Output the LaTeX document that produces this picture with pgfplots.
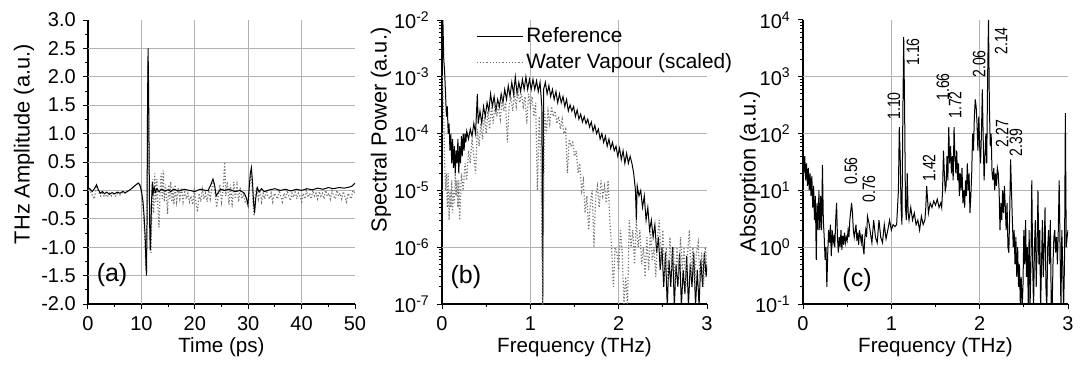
\documentclass[border=0pt]{standalone}
\usepackage{fontspec}
\setmainfont{Liberation Sans}
\usepackage{graphicx}
\usepackage{pgfplots}
\pgfplotsset{compat=1.18}
\newcommand{\ann}[1]{\fontsize{9}{10}\selectfont\scalebox{0.78}[1]{#1}}
\tikzset{gridl/.style={solid, black!30, line width=0.5pt}}
\pgfplotsset{
 myax/.style={scale only axis, height=142pt,
  axis x line*=bottom, axis y line*=left,
  axis line style={-, line width=0.6pt},
  tick align=outside, major tick length=2.6pt, minor tick length=1.5pt,
  tick style={black, line width=0.5pt},
  /pgf/number format/assume math mode=true,
  tick label style={font=\fontsize{10}{12}\selectfont},
  xlabel style={font=\fontsize{10.3}{12}\selectfont, at={(axis description cs:0.5,-0.151)}, anchor=center},
  ylabel style={font=\fontsize{10.9}{12}\selectfont, anchor=center},
  grid style={gridl},
  major grid style={gridl},
  extra x tick style={xmajorgrids=true, major tick length=0pt},
  clip=true,
 },
 refl/.style={black, line width=0.5pt, mark=none},
 wvl/.style={black!55, densely dotted, line width=0.6pt, mark=none},
}
\begin{document}
\begin{tikzpicture}
\path[use as bounding box] (0,0) rectangle (540.5pt,185pt);
% ---------------- (a)
\begin{axis}[myax, at={(44pt,33pt)}, anchor=south west, width=133.5pt,
  xmin=0, xmax=50, ymin=-2, ymax=3,
  xtick={0,10,20,30,40,50}, minor x tick num=1,
  ytick={-2,-1.5,-1,-0.5,0,0.5,1,1.5,2,2.5,3}, minor y tick num=1,
  yticklabels={-2.0,-1.5,-1.0,-0.5,0.0,0.5,1.0,1.5,2.0,2.5,3.0},
  extra x ticks={10,20,30,40}, extra x tick labels={},
  xlabel={Time (ps)}, ylabel={THz Amplitude (a.u.)},
  ylabel style={at={(axis description cs:-0.24,0.563)}}]
\pgfplotsinvokeforeach{-1.5,-1,-0.5,0,0.5,1,1.5,2,2.5}{\draw[gridl] (axis cs:0,#1) -- (axis cs:50,#1);}
\addplot[wvl] coordinates {(0,0.02)(0.3,0.05)(0.6,-0.05)(0.9,-0.1)(1.2,-0.15)(1.5,0.05)(1.8,0.0)(2.1,-0.05)(2.4,-0.1)(2.7,-0.05)(3,-0.1)(3.3,-0.08)(3.6,-0.12)(4,-0.05)(4.4,-0.1)(4.8,-0.06)(5.2,-0.1)(5.6,-0.05)(6,-0.08)(6.4,-0.04)(6.8,-0.06)(7.2,-0.03)(7.6,-0.01)(8,0.02)(8.5,0.06)(9,0.1)(9.4,0.12)(9.7,0.08)(10,-0.05)(10.3,-0.3)(10.5,-0.6)(10.7,-1.0)(10.9,-1.4)(11.05,-0.5)(11.2,2.2)(11.35,1.2)(11.5,-0.3)(11.65,-0.9)(11.8,-1.1)(11.95,-0.4)(12.1,0.2)(12.3,-0.4)(12.5,0.3)(12.7,-0.2)(12.9,0.2)(13.1,-0.3)(13.3,-0.65)(13.5,0.0)(13.7,0.3)(13.9,-0.15)(14.1,0.35)(14.3,-0.2)(14.5,0.1)(14.7,-0.1)(14.9,-0.42)(15.1,0.1)(15.3,-0.15)(15.5,0.15)(15.7,-0.2)(15.9,0.05)(16.1,-0.25)(16.3,0.1)(16.6,-0.2)(16.9,0.05)(17.2,-0.15)(17.5,0.05)(17.8,-0.2)(18.1,0.0)(18.4,-0.15)(18.7,-0.05)(19,-0.2)(19.3,-0.1)(19.6,-0.25)(19.9,0.0)(20.2,-0.2)(20.5,-0.38)(20.8,-0.05)(21.1,-0.2)(21.4,0.02)(21.7,-0.15)(22,-0.05)(22.3,-0.2)(22.6,0.0)(22.9,-0.15)(23.2,0.05)(23.5,0.15)(23.8,-0.05)(24.1,-0.3)(24.4,-0.1)(24.7,0.1)(25,-0.2)(25.3,0.0)(25.6,0.5)(25.8,-0.1)(26.1,0.15)(26.4,-0.25)(26.7,0.1)(27,-0.3)(27.3,0.15)(27.6,-0.15)(27.9,0.1)(28.2,-0.2)(28.5,0.05)(28.8,-0.15)(29.1,-0.05)(29.4,-0.2)(29.7,-0.2)(30,-0.28)(30.2,0.0)(30.5,0.35)(30.7,0.1)(30.9,-0.2)(31.1,-0.45)(31.3,-0.1)(31.6,0.05)(31.9,-0.15)(32.2,0.0)(32.5,-0.2)(32.8,-0.05)(33.1,-0.15)(33.4,0.0)(33.7,-0.1)(34,-0.15)(34.3,-0.05)(34.6,-0.2)(34.9,-0.05)(35.2,-0.1)(35.5,-0.15)(35.8,0.0)(36.1,-0.1)(36.4,-0.2)(36.7,-0.05)(37,-0.15)(37.3,0.0)(37.6,-0.1)(37.9,-0.18)(38.2,-0.05)(38.5,-0.12)(38.8,0.0)(39.1,-0.15)(39.4,-0.05)(39.7,-0.1)(40,-0.2)(40.3,-0.05)(40.6,-0.15)(40.9,0.0)(41.2,-0.12)(41.5,-0.05)(41.8,-0.15)(42.1,0.0)(42.4,-0.1)(42.7,-0.05)(43,-0.15)(43.3,-0.02)(43.6,-0.1)(43.9,-0.05)(44.2,-0.15)(44.5,0.0)(44.8,-0.1)(45.1,-0.05)(45.4,-0.15)(45.7,0.0)(46,-0.1)(46.3,-0.15)(46.6,0.0)(46.9,-0.1)(47.2,-0.05)(47.5,-0.15)(47.8,-0.02)(48.1,-0.1)(48.4,-0.2)(48.7,-0.05)(49,-0.1)(49.3,-0.15)(49.6,0.0)(50,-0.05)};
\addplot[refl] coordinates {(0,0.05)(0.4,0.02)(0.8,-0.02)(1.2,0.03)(1.6,0.1)(1.9,0.02)(2.3,-0.05)(2.7,-0.02)(3.1,-0.06)(3.5,-0.03)(4,-0.07)(4.5,-0.04)(5,-0.06)(5.5,-0.03)(6,-0.05)(6.5,-0.02)(7,-0.04)(7.5,-0.01)(8,0.02)(8.5,0.06)(9,0.1)(9.4,0.13)(9.7,0.1)(10,0.0)(10.3,-0.2)(10.5,-0.45)(10.7,-0.8)(10.85,-1.3)(10.95,-1.5)(11.05,-0.6)(11.15,1.5)(11.25,2.5)(11.35,1.8)(11.45,0.5)(11.55,-0.6)(11.65,-1.05)(11.75,-0.8)(11.9,-0.2)(12.05,0.15)(12.2,-0.05)(12.4,0.05)(12.6,-0.03)(12.9,0.03)(13.3,-0.02)(13.8,0.02)(14.3,-0.01)(15,0.01)(15.5,-0.02)(16,0.02)(17,-0.01)(18,0.02)(19,0.0)(20,-0.02)(21,0.02)(22,0.0)(22.5,0.0)(23,0.1)(23.4,0.2)(23.7,0.1)(24,-0.1)(24.3,-0.05)(24.8,0.02)(25.5,0.0)(26.5,0.02)(27.5,-0.02)(28.5,0.0)(29.3,-0.05)(29.7,-0.15)(29.95,-0.25)(30.15,0.0)(30.4,0.3)(30.6,0.4)(30.8,0.15)(31.0,-0.2)(31.2,-0.4)(31.4,-0.15)(31.7,0.05)(32,-0.02)(32.5,0.03)(33,-0.02)(34,0.01)(35,0.03)(36,0.0)(37,0.02)(38,-0.01)(39,0.02)(40,0.0)(41,0.03)(42,0.01)(43,0.04)(44,0.02)(45,0.05)(46,0.03)(47,0.05)(48,0.04)(49,0.06)(49.5,0.08)(50,0.13)};
\node[font=\fontsize{12.5}{14}\selectfont] at (axis description cs:0.09,0.102) {(a)};
\end{axis}
% ---------------- (b)
\begin{axis}[myax, at={(221pt,33pt)}, anchor=south west, width=132.5pt,
  ymode=log, xmin=0, xmax=3, ymin=1e-7, ymax=1e-2,
  xtick={0,1,2,3}, minor x tick num=1,
  ytick={1e-7,1e-6,1e-5,1e-4,1e-3,1e-2},
  yticklabels={10\textsuperscript{-7},10\textsuperscript{-6},10\textsuperscript{-5},10\textsuperscript{-4},10\textsuperscript{-3},10\textsuperscript{-2}},
  extra x ticks={1,2}, extra x tick labels={},
  xlabel={Frequency (THz)}, ylabel={Spectral Power (a.u.)},
  ylabel style={at={(axis description cs:-0.23,0.613)}},
  legend style={at={(axis description cs:0.105,1.0)}, anchor=north west, draw=none, fill=none,
    font=\fontsize{10.4}{12}\selectfont, nodes={inner sep=1.5pt}, row sep=1.2pt},
  legend cell align=left,
  legend image code/.code={\draw[#1] (0pt,0pt) -- (23pt,0pt);}]
\pgfplotsinvokeforeach{1e-6,1e-5,1e-4,1e-3}{\draw[gridl] (axis cs:0,#1) -- (axis cs:3,#1);}
\addplot[refl] coordinates {(0.005,8e-3)(0.01,1e-2)(0.02,2e-3)(0.03,1.2e-3)(0.04,5e-4)(0.05,2e-4)(0.06,3e-4)(0.07,1e-4)(0.08,1.5e-4)(0.09,5e-5)(0.10,1e-4)(0.11,3e-5)(0.12,8e-5)(0.13,2.5e-5)(0.14,6e-5)(0.15,2e-5)(0.16,5e-5)(0.17,3e-5)(0.18,8e-5)(0.19,2e-5)(0.2,6e-5)(0.21,3e-5)(0.22,9e-5)(0.23,4e-5)(0.24,1e-4)(0.25,5e-5)(0.26,1e-4)(0.27,7e-5)(0.28,1.1e-4)(0.3,8e-5)(0.32,1.2e-4)(0.34,9e-5)(0.36,1.5e-4)(0.38,1e-4)(0.40,5e-4)(0.41,1.5e-4)(0.43,2.5e-4)(0.45,1.5e-4)(0.47,3e-4)(0.49,2e-4)(0.51,3.5e-4)(0.53,2.5e-4)(0.55,5e-4)(0.57,3e-4)(0.59,4.5e-4)(0.61,2.5e-4)(0.63,4e-4)(0.65,3e-4)(0.67,5e-4)(0.69,3.5e-4)(0.71,6e-4)(0.73,4e-4)(0.75,7e-4)(0.77,4.5e-4)(0.79,8e-4)(0.81,5e-4)(0.83,1e-3)(0.85,5e-4)(0.87,8e-4)(0.89,5.5e-4)(0.91,9e-4)(0.93,6e-4)(0.95,1e-3)(0.97,6e-4)(0.99,9e-4)(1.01,6e-4)(1.03,9e-4)(1.05,6e-4)(1.07,8.5e-4)(1.09,5.5e-4)(1.11,8e-4)(1.13,3e-4)(1.14,9e-8)(1.15,6e-4)(1.17,8e-4)(1.19,5e-4)(1.21,7e-4)(1.23,4.5e-4)(1.25,6e-4)(1.27,4e-4)(1.29,5.5e-4)(1.31,3.5e-4)(1.33,5e-4)(1.35,3.5e-4)(1.37,4.5e-4)(1.39,3e-4)(1.41,4e-4)(1.43,2.5e-4)(1.45,3.2e-4)(1.47,2.5e-4)(1.49,3e-4)(1.51,2e-4)(1.53,2.6e-4)(1.55,1.8e-4)(1.57,2.2e-4)(1.59,1.6e-4)(1.61,2e-4)(1.63,1.5e-4)(1.65,1.8e-4)(1.67,1.3e-4)(1.69,1.6e-4)(1.71,1.1e-4)(1.73,1.4e-4)(1.75,1e-4)(1.77,1.2e-4)(1.79,8e-5)(1.81,1e-4)(1.83,7e-5)(1.85,9e-5)(1.87,6e-5)(1.89,8e-5)(1.91,5.5e-5)(1.93,7e-5)(1.95,5e-5)(1.97,6e-5)(1.99,4e-5)(2.01,5.5e-5)(2.03,3.5e-5)(2.05,5e-5)(2.07,3e-5)(2.09,4.5e-5)(2.11,3e-5)(2.13,4e-5)(2.15,3e-5)(2.17,2e-5)(2.19,1e-5)(2.2,3e-6)(2.21,1.2e-5)(2.23,8e-6)(2.25,1e-5)(2.27,5e-6)(2.29,8e-6)(2.31,3e-6)(2.33,5e-6)(2.35,2e-6)(2.37,3e-6)(2.39,1.5e-6)(2.41,2.5e-6)(2.43,8e-7)(2.45,1.5e-6)(2.47,4e-7)(2.49,1e-6)(2.51,2e-7)(2.53,8e-7)(2.55,9e-8)(2.57,6e-7)(2.59,2e-7)(2.61,1e-6)(2.63,9e-8)(2.65,5e-7)(2.67,2e-7)(2.69,8e-7)(2.71,9e-8)(2.73,4e-7)(2.75,1.5e-7)(2.77,7e-7)(2.79,9e-8)(2.81,5e-7)(2.83,2e-7)(2.85,8e-7)(2.87,9e-8)(2.89,4e-7)(2.91,9e-8)(2.93,6e-7)(2.95,2e-7)(2.97,8e-7)(2.99,3e-7)(3.0,5e-7)};
\addlegendentry{Reference}
\addplot[wvl] coordinates {(0.005,1e-3)(0.01,5e-4)(0.02,2e-4)(0.03,3e-5)(0.04,1e-5)(0.05,2e-5)(0.06,5e-6)(0.07,2e-5)(0.08,3e-6)(0.09,1e-5)(0.1,5e-6)(0.11,1.5e-5)(0.12,4e-6)(0.13,1e-5)(0.14,6e-6)(0.15,2e-5)(0.16,8e-6)(0.17,1.5e-5)(0.18,5e-6)(0.19,1.5e-5)(0.20,3e-6)(0.22,2e-5)(0.24,1e-5)(0.26,3e-5)(0.28,1.5e-5)(0.30,5e-5)(0.32,3e-5)(0.34,8e-5)(0.36,4e-5)(0.38,2e-5)(0.40,1.2e-4)(0.42,6e-5)(0.44,1.5e-4)(0.46,8e-5)(0.48,2e-4)(0.50,1e-4)(0.52,2.5e-4)(0.54,1.2e-4)(0.56,3e-4)(0.58,1.5e-4)(0.60,3.5e-4)(0.62,2e-4)(0.64,3e-4)(0.66,1.8e-4)(0.68,4e-4)(0.70,2.5e-4)(0.72,3.5e-4)(0.74,7e-5)(0.76,3e-4)(0.78,4.5e-4)(0.80,2.5e-4)(0.82,5e-4)(0.84,3e-4)(0.86,5.5e-4)(0.88,3.5e-4)(0.90,5e-4)(0.92,3e-4)(0.94,4.5e-4)(0.96,1.5e-4)(0.98,5e-4)(1.00,3e-4)(1.02,4.5e-4)(1.04,2e-4)(1.06,3.5e-4)(1.08,1e-5)(1.10,2e-4)(1.12,3e-5)(1.14,9e-8)(1.16,2.5e-4)(1.18,1e-4)(1.20,2.5e-4)(1.22,1.5e-4)(1.24,3e-4)(1.26,2e-4)(1.28,2.5e-4)(1.30,1.5e-4)(1.32,2e-4)(1.34,1.2e-4)(1.36,1.8e-4)(1.38,1e-4)(1.40,1.2e-4)(1.42,2e-5)(1.44,8e-5)(1.46,6e-5)(1.48,7e-5)(1.50,4e-5)(1.52,5e-5)(1.54,2e-5)(1.56,3e-5)(1.58,1e-5)(1.60,1.5e-5)(1.62,4e-6)(1.64,8e-6)(1.66,2e-6)(1.68,6e-6)(1.70,1e-5)(1.72,1e-6)(1.74,8e-6)(1.76,1.2e-5)(1.78,5e-6)(1.80,1.5e-5)(1.82,8e-6)(1.84,1.2e-5)(1.86,6e-6)(1.88,1.5e-5)(1.90,3e-6)(1.92,1e-6)(1.94,2e-7)(1.96,1e-6)(1.98,8e-7)(2.00,4e-7)(2.02,2e-6)(2.04,8e-7)(2.06,1e-7)(2.08,3e-7)(2.10,9e-8)(2.12,3e-6)(2.14,1e-6)(2.16,2e-6)(2.18,5e-7)(2.20,3e-6)(2.22,1e-6)(2.24,2e-6)(2.26,5e-7)(2.28,1e-6)(2.30,3e-7)(2.32,1.5e-6)(2.34,4e-7)(2.36,2e-6)(2.38,6e-7)(2.40,1e-6)(2.42,3e-7)(2.44,1.5e-6)(2.46,3e-6)(2.48,5e-7)(2.50,2e-6)(2.52,3e-7)(2.54,1e-6)(2.56,2e-7)(2.58,1.5e-6)(2.60,4e-7)(2.62,1e-6)(2.64,2e-7)(2.66,1e-6)(2.68,3e-7)(2.70,1.5e-6)(2.72,4e-7)(2.74,1e-6)(2.76,2e-7)(2.78,8e-7)(2.80,2e-6)(2.82,3e-7)(2.84,1e-6)(2.86,2e-7)(2.88,8e-7)(2.90,1.2e-6)(2.92,3e-7)(2.94,8e-7)(2.96,2e-7)(2.98,1e-6)(3.0,5e-7)};
\addlegendentry{Water Vapour (scaled)}
\node[font=\fontsize{12.5}{14}\selectfont] at (axis description cs:0.09,0.095) {(b)};
\end{axis}
% ---------------- (c)
\begin{axis}[myax, at={(401.5pt,33pt)}, anchor=south west, width=132.5pt,
  ymode=log, xmin=0, xmax=3, ymin=1e-1, ymax=1e4,
  xtick={0,1,2,3}, minor x tick num=1,
  ytick={1e-1,1,1e1,1e2,1e3,1e4},
  yticklabels={10\textsuperscript{-1},10\textsuperscript{0},10\textsuperscript{1},10\textsuperscript{2},10\textsuperscript{3},10\textsuperscript{4}},
  extra x ticks={1,2}, extra x tick labels={},
  xlabel={Frequency (THz)}, ylabel={Absorption (a.u.)},
  ylabel style={at={(axis description cs:-0.2,0.465)}}]
\pgfplotsinvokeforeach{1,1e1,1e2,1e3}{\draw[gridl] (axis cs:0,#1) -- (axis cs:3,#1);}
\addplot[refl] coordinates {(0.0,60)(0.01,20)(0.02,40)(0.03,15)(0.04,30)(0.05,12)(0.06,25)(0.07,10)(0.08,20)(0.09,8)(0.10,18)(0.11,5)(0.12,12)(0.13,3)(0.14,8)(0.15,0.6)(0.16,6)(0.17,2)(0.18,10)(0.19,2)(0.20,8)(0.21,2)(0.22,28)(0.23,3)(0.24,1.5)(0.25,0.6)(0.26,1)(0.27,0.2)(0.28,0.8)(0.29,2)(0.30,1.2)(0.31,2.5)(0.32,0.7)(0.33,2)(0.34,1.2)(0.35,1.5)(0.36,1)(0.37,3)(0.38,6)(0.39,1.5)(0.40,0.8)(0.41,1.5)(0.42,1)(0.43,2)(0.44,0.9)(0.45,1.6)(0.46,1.1)(0.47,1.8)(0.48,1.2)(0.49,1.5)(0.50,1.3)(0.51,2)(0.52,1.5)(0.53,3)(0.55,6)(0.56,4)(0.57,2)(0.58,1.5)(0.60,2.5)(0.61,1.3)(0.62,1.8)(0.63,1.1)(0.64,2)(0.66,1.2)(0.67,1.7)(0.68,1)(0.69,0.75)(0.70,1.5)(0.71,2)(0.72,1.5)(0.73,3.5)(0.75,2.5)(0.77,1.5)(0.78,1.2)(0.80,3)(0.82,1.5)(0.84,1.2)(0.86,3)(0.88,1.5)(0.90,1.2)(0.92,2.5)(0.94,1.4)(0.96,2)(0.98,3)(1.00,2)(1.02,2.5)(1.04,2.3)(1.06,2.5)(1.08,10)(1.09,130)(1.10,40)(1.11,5)(1.12,2.5)(1.13,200)(1.14,5000)(1.15,300)(1.16,5)(1.17,3)(1.18,20)(1.19,4)(1.20,3)(1.22,5)(1.24,3)(1.26,4)(1.28,2.5)(1.30,3)(1.32,2)(1.34,3.5)(1.36,2.5)(1.38,3)(1.39,5)(1.40,12)(1.41,7)(1.42,4)(1.44,6)(1.46,5)(1.48,6.5)(1.50,5.5)(1.52,7)(1.54,5)(1.56,6)(1.57,5)(1.58,10)(1.59,50)(1.60,20)(1.61,10)(1.62,12)(1.63,40)(1.64,15)(1.65,130)(1.66,30)(1.67,60)(1.68,20)(1.69,40)(1.70,15)(1.71,130)(1.72,40)(1.73,20)(1.74,50)(1.75,15)(1.76,30)(1.77,8)(1.78,20)(1.79,10)(1.80,25)(1.81,6)(1.82,10)(1.83,5)(1.84,15)(1.85,8)(1.86,30)(1.87,10)(1.88,20)(1.89,4)(1.90,8)(1.91,20)(1.92,100)(1.93,50)(1.94,200)(1.95,400)(1.96,300)(1.97,150)(1.98,50)(1.99,200)(2.00,60)(2.01,30)(2.02,100)(2.03,600)(2.04,80)(2.05,15)(2.06,40)(2.07,100)(2.08,30)(2.09,1000)(2.10,10000)(2.11,300)(2.12,60)(2.13,100)(2.14,20)(2.15,15)(2.16,25)(2.17,10)(2.18,20)(2.19,12)(2.20,25)(2.21,20)(2.22,10)(2.23,2)(2.24,6)(2.25,3)(2.26,10)(2.27,4)(2.28,12)(2.29,5)(2.30,2)(2.31,6)(2.32,1)(2.33,0.8)(2.34,4)(2.35,35)(2.36,10)(2.37,3)(2.38,1)(2.39,2)(2.40,0.5)(2.41,1.5)(2.42,0.3)(2.43,1)(2.44,0.2)(2.45,0.5)(2.46,0.1)(2.47,0.3)(2.48,0.08)(2.49,0.2)(2.50,2)(2.51,0.5)(2.52,3)(2.53,0.3)(2.54,1)(2.55,0.1)(2.56,2)(2.57,0.08)(2.58,0.5)(2.59,15)(2.60,0.5)(2.61,0.08)(2.62,1)(2.63,3)(2.64,0.2)(2.65,1)(2.66,10)(2.67,0.5)(2.68,2)(2.69,0.08)(2.70,0.5)(2.71,3)(2.72,0.3)(2.73,1)(2.74,5)(2.75,0.2)(2.76,0.08)(2.77,1)(2.78,2)(2.79,0.5)(2.80,3)(2.81,0.1)(2.82,0.08)(2.83,0.5)(2.84,1.5)(2.85,2)(2.86,0.8)(2.87,1.5)(2.88,0.5)(2.89,2)(2.90,15)(2.91,1)(2.92,0.08)(2.93,2)(2.94,0.5)(2.95,0.08)(2.96,0.5)(2.97,230)(2.98,1)(2.99,1.5)(3.0,2)};
\node[font=\fontsize{12.5}{14}\selectfont] at (axis description cs:0.204,0.085) {(c)};
\node[rotate=90] at (axis cs:0.543,22) {\ann{0.56}};
\node[rotate=90] at (axis cs:0.747,10.6) {\ann{0.76}};
\node[rotate=90] at (axis cs:1.03,306) {\ann{1.10}};
\node[rotate=90] at (axis cs:1.245,2735) {\ann{1.16}};
\node[rotate=90] at (axis cs:1.426,24.8) {\ann{1.42}};
\node[rotate=90] at (axis cs:1.585,661) {\ann{1.66}};
\node[rotate=90] at (axis cs:1.721,319) {\ann{1.72}};
\node[rotate=90] at (axis cs:1.993,1679) {\ann{2.06}};
\node[rotate=90] at (axis cs:2.242,4266) {\ann{2.14}};
\node[rotate=90] at (axis cs:2.253,100) {\ann{2.27}};
\node[rotate=90] at (axis cs:2.411,70) {\ann{2.39}};
\end{axis}
\end{tikzpicture}
\end{document}
